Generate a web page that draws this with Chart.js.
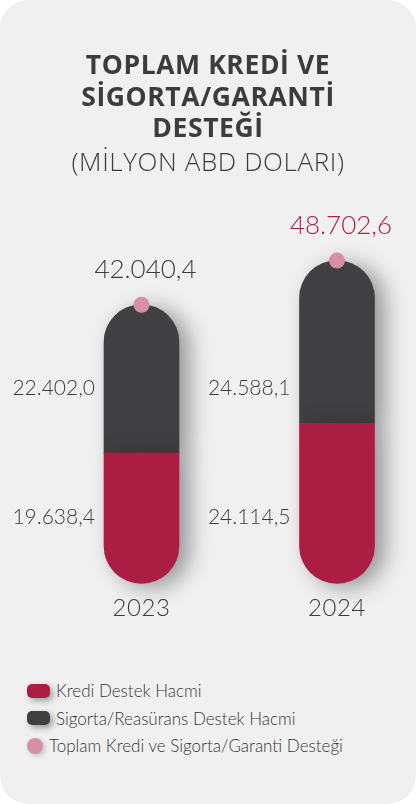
<!DOCTYPE html>
<html lang="tr">
<head>
<meta charset="utf-8">
<title>Toplam Kredi ve Sigorta/Garanti Desteği</title>
<script src="https://cdn.jsdelivr.net/npm/chart.js@4"></script>
<style>
  html, body { margin: 0; padding: 0; background: #fff; }
  .card {
    position: relative;
    width: 416px; height: 804px;
    background: #f0f0f0;
    border-radius: 28px;
    overflow: hidden;
    font-family: Lato, sans-serif;
  }
  .chart-box { position: absolute; left: 0; top: 0; width: 416px; height: 650px; }
  .legend { position: absolute; left: 27px; top: 677px; }
  .legend-item {
    display: flex; align-items: center;
    height: 27.5px;
    font-size: 17px; font-weight: 300; color: #353537;
  }
  .legend-box {
    width: 23px; height: 14px; border-radius: 5px; margin-right: 6px;
    box-shadow: 3px 3px 6px rgba(0,0,0,0.35);
  }
  .legend-dot {
    width: 16px; height: 16px; border-radius: 50%; margin-right: 6px;
    box-shadow: 2px 2px 5px rgba(0,0,0,0.2);
  }
</style>
</head>
<body>
<div class="card">
  <div class="chart-box"><canvas id="supportChart"></canvas></div>
  <div class="legend" id="legend"></div>
</div>

<script>
// --- data ---
const years = ['2023', '2024'];
const krediValues = [19638.4, 24114.5];
const sigortaValues = [22402.0, 24588.1];
const totalValues = [42040.4, 48702.6];
const seriesNames = ['Kredi Destek Hacmi', 'Sigorta/Reasürans Destek Hacmi', 'Toplam Kredi ve Sigorta/Garanti Desteği'];

const RED = '#ab1d42';
const DARK = '#404042';
const PINK = '#d68fa3';
const TEXT = '#3c3c3e';

// 42040.4 -> "42.040,4"
function fmt(v) {
  const parts = v.toFixed(1).split('.');
  return parts[0].replace(/\B(?=(\d{3})+(?!\d))/g, '.') + ',' + parts[1];
}

// soft shadow on the right side of the bars
const barShadow = {
  id: 'barShadow',
  beforeDatasetDraw(chart, args) {
    if (args.meta.type !== 'bar') return;
    const ctx = chart.ctx;
    ctx.save();
    ctx.shadowColor = 'rgba(0,0,0,0.38)';
    ctx.shadowBlur = 22;
    ctx.shadowOffsetX = 10;
    ctx.shadowOffsetY = 4;
  },
  afterDatasetDraw(chart, args) {
    if (args.meta.type !== 'bar') return;
    chart.ctx.restore();
  }
};

// slightly wider tracking for the heading lines
const headingSpacing = {
  id: 'headingSpacing',
  beforeDraw(chart) { chart.ctx.letterSpacing = '0.6px'; },
  beforeDatasetsDraw(chart) { chart.ctx.letterSpacing = '0px'; }
};

// value labels beside the bars and totals above them
const rowOffsets = [66, 195];
const valueLabels = {
  id: 'valueLabels',
  afterDatasetsDraw(chart) {
    const {ctx, chartArea} = chart;
    ctx.save();
    ctx.textBaseline = 'middle';
    [0, 1].forEach(di => {
      const meta = chart.getDatasetMeta(di);
      meta.data.forEach((bar, i) => {
        ctx.font = '300 21px Lato';
        ctx.fillStyle = TEXT;
        ctx.textAlign = 'right';
        ctx.fillText(fmt(chart.data.datasets[di].data[i]), bar.x - bar.width / 2 - 9, chartArea.bottom - rowOffsets[di]);
      });
    });
    const dots = chart.getDatasetMeta(2);
    dots.data.forEach((pt, i) => {
      ctx.font = '300 26px Lato';
      ctx.fillStyle = i === years.length - 1 ? RED : TEXT;
      ctx.textAlign = 'center';
      ctx.fillText(fmt(totalValues[i]), pt.x + 4, pt.y - 35);
    });
    ctx.restore();
  }
};

// empty side axes just to hold the bars where they sit in the card
const hiddenAxis = (pos, w) => ({
  position: pos,
  display: true,
  grid: {display: false, drawTicks: false},
  border: {display: false},
  ticks: {display: false},
  afterFit(scale) { scale.width = w; }
});

const ctx = document.getElementById('supportChart').getContext('2d');
const supportChart = new Chart(ctx, {
  data: {
    labels: years,
    datasets: [{
      type: 'bar',
      label: seriesNames[0],
      data: krediValues,
      backgroundColor: RED,
      stack: 'a',
      barThickness: 75,
      borderSkipped: false,
      borderRadius: {topLeft: 0, topRight: 0, bottomLeft: 40, bottomRight: 40},
      clip: false
    }, {
      type: 'bar',
      label: seriesNames[1],
      data: sigortaValues,
      backgroundColor: DARK,
      stack: 'a',
      barThickness: 75,
      borderSkipped: false,
      borderRadius: {topLeft: 40, topRight: 40, bottomLeft: 0, bottomRight: 0},
      clip: false
    }, {
      type: 'line',
      label: seriesNames[2],
      data: totalValues,
      stack: 'dots',
      showLine: false,
      order: -1,
      pointRadius: 8,
      pointHoverRadius: 8,
      pointBorderWidth: 0,
      pointBackgroundColor: PINK,
      clip: false
    }]
  },
  options: {
    responsive: true,
    maintainAspectRatio: false,
    animation: false,
    events: [],
    layout: {padding: {top: 51, bottom: 15.9, left: 0, right: 0}},
    plugins: {
      legend: {display: false},
      tooltip: {enabled: false},
      title: {
        display: true,
        text: ['TOPLAM KREDİ VE', 'SİGORTA/GARANTİ', 'DESTEĞİ'],
        color: TEXT,
        font: {family: 'Open Sans', size: 26.5, weight: 'bold', lineHeight: 1.19},
        padding: {top: 0, bottom: 0}
      },
      subtitle: {
        display: true,
        text: '(MİLYON ABD DOLARI)',
        color: TEXT,
        font: {family: 'Open Sans', size: 26, weight: '300', lineHeight: 1.2},
        padding: {top: 2, bottom: 73.2}
      }
    },
    scales: {
      x: {
        stacked: true,
        offset: false,
        z: 1,
        grid: {display: false, drawTicks: false},
        border: {display: false},
        ticks: {color: TEXT, font: {family: 'Lato', size: 24, weight: '300'}, padding: 11}
      },
      y: Object.assign(hiddenAxis('left', 141.5), {stacked: true, min: 0, max: 50000}),
      yRight: hiddenAxis('right', 79)
    }
  },
  plugins: [barShadow, headingSpacing, valueLabels]
});

// legend, one item per line
const legendEl = document.getElementById('legend');
supportChart.data.datasets.forEach((ds, i) => {
  const item = document.createElement('div');
  item.className = 'legend-item';
  const mark = document.createElement('span');
  mark.className = ds.type === 'line' ? 'legend-dot' : 'legend-box';
  mark.style.background = ds.type === 'line' ? ds.pointBackgroundColor : ds.backgroundColor;
  item.appendChild(mark);
  item.appendChild(document.createTextNode(ds.label));
  legendEl.appendChild(item);
});
</script>
</body>
</html>
